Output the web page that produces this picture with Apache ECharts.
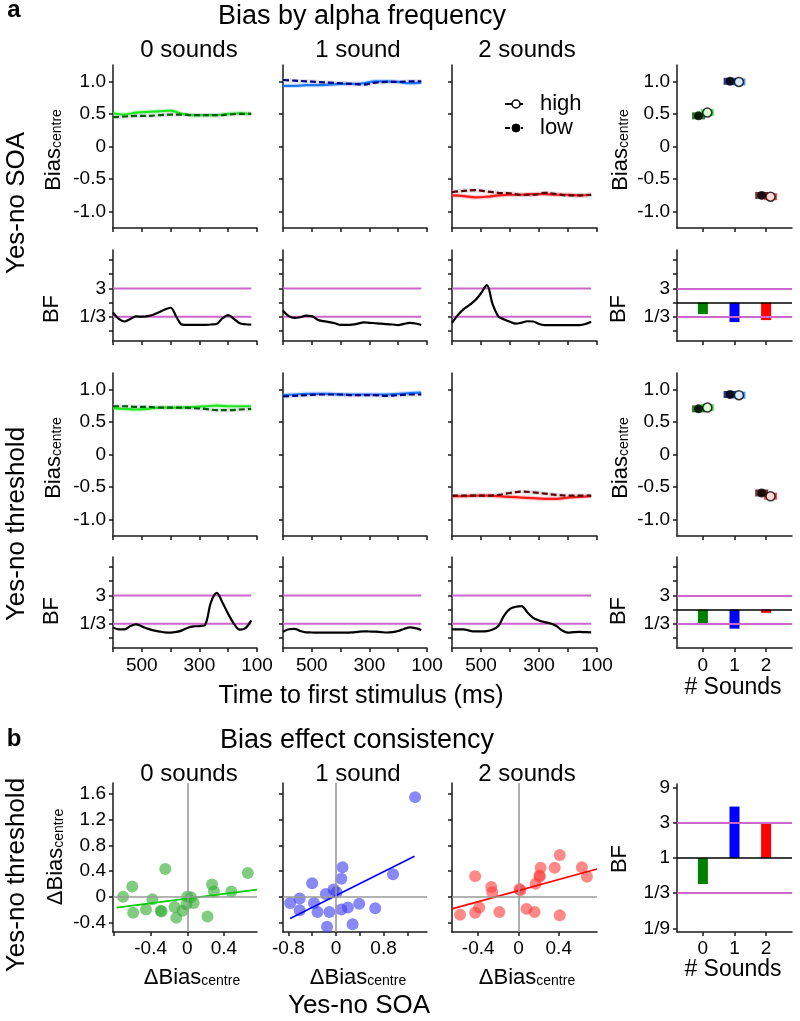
<!DOCTYPE html>
<html><head><meta charset="utf-8">
<script src="https://cdn.jsdelivr.net/npm/echarts@6/dist/echarts.min.js"></script>
<style>html,body{margin:0;padding:0;background:#fff}#c{width:800px;height:1021px}</style>
</head><body><div id="c"></div><script>
// ================= DATA =================
const timeFine   = [600,580,560,540,520,500,480,460,440,420,400,380,360,340,320,300,280,260,240,220,200,180,160,140,120];
const timeCoarse = [600,560,520,480,440,400,360,320,280,240,200,160,120];
const soundTitles = ['0 sounds','1 sound','2 sounds'];
const soundCounts = [0,1,2];
const timeTicks = [100,200,300,400,500,600];
const timeTickLabels = [500,300,100];
const biasTicks = [-1,-0.5,0,0.5,1];
const bfTicksLog3 = [-2,-1,0,1,2,3];
const bfLabelsLog3 = [-1,1];
const bfRefLog3 = [1,-1];            // BF = 3 and 1/3 (log base 3)

// Yes-no SOA: Bias_centre time courses (high / low alpha)
const soaHigh0 = [0.51,0.49,0.52,0.53,0.54,0.55,0.50,0.48,0.48,0.48,0.50,0.51,0.50];
const soaLow0  = [0.45,0.46,0.47,0.47,0.48,0.49,0.49,0.48,0.48,0.48,0.49,0.50,0.50];
const soaHigh1 = [0.93,0.93,0.94,0.94,0.95,0.96,0.96,0.97,1.00,1.00,0.99,0.97,0.98];
const soaLow1  = [1.02,1.01,1.00,0.99,0.98,0.97,0.96,0.95,0.98,0.99,0.99,1.00,1.00];
const soaHigh2 = [-0.75,-0.76,-0.78,-0.77,-0.75,-0.74,-0.74,-0.73,-0.73,-0.74,-0.74,-0.75,-0.74];
const soaLow2  = [-0.70,-0.68,-0.67,-0.69,-0.71,-0.72,-0.74,-0.74,-0.71,-0.73,-0.75,-0.75,-0.74];
// Yes-no threshold: Bias_centre time courses
const thrHigh0 = [0.71,0.70,0.69,0.70,0.72,0.72,0.72,0.73,0.74,0.75,0.74,0.74,0.74];
const thrLow0  = [0.74,0.74,0.73,0.73,0.72,0.72,0.72,0.71,0.70,0.68,0.68,0.69,0.70];
const thrHigh1 = [0.91,0.92,0.93,0.93,0.93,0.92,0.92,0.92,0.92,0.92,0.93,0.94,0.95];
const thrLow1  = [0.89,0.90,0.91,0.92,0.92,0.92,0.91,0.91,0.91,0.90,0.91,0.92,0.92];
const thrHigh2 = [-0.64,-0.64,-0.63,-0.63,-0.64,-0.65,-0.66,-0.67,-0.68,-0.68,-0.66,-0.65,-0.64];
const thrLow2  = [-0.63,-0.63,-0.63,-0.63,-0.62,-0.59,-0.57,-0.58,-0.60,-0.62,-0.63,-0.63,-0.63];

// BF time courses, log base 3 of BF
const soaBF0 = [-0.69,-1.15,-1.33,-1.15,-0.97,-0.99,-0.95,-0.85,-0.68,-0.48,-0.36,-1.00,-1.55,-1.57,-1.57,-1.57,-1.56,-1.54,-1.50,-1.10,-0.88,-1.15,-1.45,-1.52,-1.55];
const soaBF1 = [-0.58,-0.95,-1.08,-1.03,-0.92,-0.95,-1.20,-1.30,-1.37,-1.45,-1.57,-1.57,-1.55,-1.48,-1.39,-1.42,-1.45,-1.48,-1.52,-1.54,-1.58,-1.50,-1.43,-1.47,-1.57];
const soaBF2 = [-1.43,-0.88,-0.46,-0.17,0.16,0.66,1.23,-0.10,-0.97,-1.18,-1.35,-1.48,-1.41,-1.31,-1.33,-1.50,-1.58,-1.59,-1.59,-1.59,-1.59,-1.59,-1.58,-1.50,-1.34];
const thrBF0 = [-1.25,-1.39,-1.39,-1.16,-1.04,-1.18,-1.34,-1.46,-1.53,-1.60,-1.62,-1.57,-1.46,-1.27,-1.18,-1.16,-1.06,0.51,1.18,0.50,-0.30,-1.00,-1.41,-1.30,-0.76];
const thrBF1 = [-1.57,-1.38,-1.35,-1.50,-1.60,-1.61,-1.62,-1.62,-1.62,-1.62,-1.62,-1.62,-1.60,-1.56,-1.53,-1.54,-1.55,-1.58,-1.61,-1.58,-1.50,-1.36,-1.25,-1.30,-1.43];
const thrBF2 = [-1.39,-1.39,-1.39,-1.48,-1.53,-1.53,-1.51,-1.40,-1.15,-0.40,0.05,0.20,0.24,-0.20,-0.58,-0.76,-0.88,-0.98,-1.15,-1.47,-1.62,-1.58,-1.57,-1.59,-1.60];

// Summary column
const soaMeanLow  = [0.47, 1.00, -0.75];
const soaMeanHigh = [0.52, 0.99, -0.77];
const thrMeanLow  = [0.70, 0.92, -0.59];
const thrMeanHigh = [0.72, 0.91, -0.64];
const soaSummaryBF = [-0.81, -1.37, -1.23];   // log3 BF
const thrSummaryBF = [-0.99, -1.34, -0.23];   // log3 BF

// Panel b: consistency scatter (x = Yes-no SOA ΔBias, y = Yes-no threshold ΔBias)
const scat0X = [-0.70,-0.60,-0.59,-0.45,-0.38,-0.29,-0.28,-0.24,-0.14,-0.12,-0.05,-0.01,0.00,0.04,0.07,0.22,0.27,0.29,0.48,0.66];
const scat0Y = [0.00,0.16,-0.25,-0.20,-0.04,-0.22,-0.23,0.43,-0.16,-0.33,-0.22,-0.12,0.00,-0.01,-0.10,-0.31,0.19,0.08,0.08,0.37];
const scat1X = [-0.77,-0.61,-0.61,-0.40,-0.37,-0.31,-0.17,-0.11,-0.15,-0.04,0.01,0.09,0.11,0.09,0.20,0.28,0.39,0.66,0.96,1.33];
const scat1Y = [-0.10,-0.03,-0.21,0.21,-0.10,-0.24,0.04,-0.24,-0.47,0.11,0.07,0.28,0.46,-0.20,-0.17,-0.43,-0.11,-0.18,0.35,1.55];
const scat2X = [-0.58,-0.43,-0.43,-0.39,-0.27,-0.26,-0.19,0.01,0.02,0.08,0.16,0.17,0.21,0.21,0.22,0.36,0.41,0.41,0.63,0.68];
const scat2Y = [-0.28,0.32,-0.25,-0.17,0.15,0.07,-0.24,0.12,0.10,-0.19,-0.24,0.20,0.31,0.33,0.45,0.45,0.65,-0.29,0.46,0.31];
const fit0X = [-0.77,0.76], fit0Y = [-0.17,0.11];
const fit1X = [-0.77,1.32], fit1Y = [-0.34,0.63];
const fit2X = [-0.66,0.78], fit2Y = [-0.19,0.43];
const consistencyBF = [-0.74, 1.46, 1.00];    // log3 BF
const scatterTicksY = [-0.4,0,0.4,0.8,1.2,1.6];
const bfTicksB = [-2,-1,0,1,2];

// ================= STYLE / LAYOUT =================
const FONT = "'Liberation Sans', Arial, Helvetica, sans-serif";
const AXC = '#1a1a1a';
const PURPLE = '#cc66cc';
const hiCol  = ['#1ee61e','#1e78ff','#ff1a1a'];
const loCol  = ['#005a00','#000080','#5a0000'];
const barCol = ['#008000','#0000ff','#ff0000'];
const scatCol= ['#2eaa2e','#3a3aee','#ff3a3a'];
const fitCol = ['#00cc00','#0000ff','#ff0000'];
const colX=[113,283,452,677], colW=[144,144,145,115];
const rowY=[65,250,373,557], rowH=[163,91,163,91];
const bTop=783, bH=149;
const DODGE=0.14;
const TICKFS=19;

const grids=[], xAxes=[], yAxes=[], series=[], graphics=[];
const fmtNum = v => v===0 ? '0' : (v<0?'-':'') + Math.abs(v).toFixed(1);
const bfNames = {'3':'27','2':'9','1':'3','0':'1','-1':'1/3','-2':'1/9'};
const fmtBF = v => bfNames[String(Math.round(v))];

function axis(o){
  return {type:'value', min:o.min, max:o.max, inverse:!!o.inverse,
    splitLine:{show:false},
    axisLine:{show:true,onZero:false,lineStyle:{color:AXC,width:1.5}},
    axisTick:{show:true,length:4,lineStyle:{color:AXC,width:1.5},customValues:o.ticks},
    axisLabel:{show:!!o.labels, customValues:o.labels||[], color:'#000', fontSize:TICKFS, fontFamily:FONT,
      margin:o.margin||7, formatter:o.fmt||(v=>String(v))}};
}
function addGrid(l,t,w,h,xo,yo){
  const i=grids.length; grids.push({left:l,top:t,width:w,height:h});
  const xa=axis(xo); xa.gridIndex=i; const ya=axis(yo); ya.gridIndex=i;
  xAxes.push(xa); yAxes.push(ya); return i;
}
function lineSeries(gi, xs, ys, color, width, type, z, smooth){
  return {type:'line', xAxisIndex:gi, yAxisIndex:gi, data:xs.map((x,i)=>[x,ys[i]]),
    showSymbol:false, smooth:smooth===undefined?0.35:smooth, silent:true, z:z||2,
    lineStyle:{color, width, type:type||'solid'}};
}
function refLines(items){
  return {silent:true, symbol:'none', label:{show:false}, animation:false,
    data:items.map(it=>({yAxis:it[0], lineStyle:{color:it[1], width:it[2]||2, type:'solid'}}))};
}

const biasSets = [[soaHigh0,soaHigh1,soaHigh2],[soaLow0,soaLow1,soaLow2],[thrHigh0,thrHigh1,thrHigh2],[thrLow0,thrLow1,thrLow2]];
const bfSets = [[soaBF0,soaBF1,soaBF2],[thrBF0,thrBF1,thrBF2]];
const meanSets = [[soaMeanLow,soaMeanHigh],[thrMeanLow,thrMeanHigh]];
const sumBF = [soaSummaryBF, thrSummaryBF];

for(let r=0;r<4;r++){
  const isBias = r%2===0, blk = r>>1;
  for(let c=0;c<4;c++){
    const yLab = (c===0||c===3);
    const yo = isBias
      ? {min:-1.25,max:1.25,ticks:biasTicks,labels:yLab?biasTicks:null,fmt:fmtNum}
      : {min:-2.7,max:3.7,ticks:bfTicksLog3,labels:yLab?bfLabelsLog3:null,fmt:fmtBF};
    const xo = c<3
      ? {min:100,max:600,inverse:true,ticks:timeTicks,labels:r===3?timeTickLabels:null,margin:8}
      : {min:-0.82,max:2.82,ticks:soundCounts,labels:r===3?soundCounts:null,margin:8};
    const gi = addGrid(colX[c],rowY[r],colW[c],rowH[r],xo,yo);
    if(c<3){
      if(isBias){
        const hi = biasSets[blk*2][c], lo = biasSets[blk*2+1][c];
        const hHalo = echarts.color.modifyAlpha(hiCol[c],0.22);
        series.push(lineSeries(gi,timeCoarse,hi,hHalo,4.5,'solid',1));
        series.push(lineSeries(gi,timeCoarse,lo,'rgba(195,195,210,0.45)',4.5,'solid',1));
        series.push(lineSeries(gi,timeCoarse,hi,hiCol[c],2.2,'solid',3));
        series.push(lineSeries(gi,timeCoarse,lo,loCol[c],2.2,[6,3],4));
      } else {
        const ends=[timeFine[0],timeFine[timeFine.length-1]];
        bfRefLog3.forEach(v=>series.push(lineSeries(gi,ends,[v,v],PURPLE,2,'solid',1,false)));
        series.push(lineSeries(gi,timeFine,bfSets[blk][c],'#000',2.2,'solid',3));
      }
    } else {
      if(isBias){
        const [lo,hi] = meanSets[blk];
        series.push({type:'scatter',xAxisIndex:gi,yAxisIndex:gi,symbol:'rect',symbolSize:[13,7],z:2,silent:true,
          data:soundCounts.map((s,i)=>({value:[s-DODGE,lo[i]],itemStyle:{color:loCol[i]}}))});
        series.push({type:'scatter',xAxisIndex:gi,yAxisIndex:gi,symbol:'rect',symbolSize:[13,7],z:2,silent:true,
          data:soundCounts.map((s,i)=>({value:[s+DODGE,hi[i]],itemStyle:{color:hiCol[i]}}))});
        series.push({type:'scatter',xAxisIndex:gi,yAxisIndex:gi,symbol:'circle',symbolSize:9,z:4,silent:true,
          itemStyle:{color:'#000'}, data:soundCounts.map((s,i)=>[s-DODGE,lo[i]])});
        series.push({type:'scatter',xAxisIndex:gi,yAxisIndex:gi,symbol:'circle',symbolSize:9,z:4,silent:true,
          itemStyle:{color:'#fff',borderColor:'#000',borderWidth:1.5}, data:soundCounts.map((s,i)=>[s+DODGE,hi[i]])});
      } else {
        series.push({type:'bar',xAxisIndex:gi,yAxisIndex:gi,barWidth:10,silent:true,z:2,
          data:soundCounts.map((s,i)=>({value:[s,sumBF[blk][i]],itemStyle:{color:barCol[i]}})),
          markLine:refLines([[1,PURPLE],[-1,PURPLE],[0,'#000',1.6]])});
      }
    }
  }
}

// Panel b scatters
const scX=[scat0X,scat1X,scat2X], scY=[scat0Y,scat1Y,scat2Y];
const fX=[fit0X,fit1X,fit2X], fY=[fit0Y,fit1Y,fit2Y];
const sxRange=[[-0.81,0.76],[-0.89,1.53],[-0.66,0.78]];
const sxTicks=[[-0.8,-0.4,0,0.4],[-0.8,-0.4,0,0.4,0.8,1.2],[-0.4,0,0.4]];
const sxLabels=[[-0.4,0,0.4],[-0.8,0,0.8],[-0.4,0,0.4]];
for(let c=0;c<3;c++){
  const gi = addGrid(colX[c],bTop,colW[c],bH,
    {min:sxRange[c][0],max:sxRange[c][1],ticks:sxTicks[c],labels:sxLabels[c],fmt:fmtNum,margin:7},
    {min:-0.55,max:1.77,ticks:scatterTicksY,labels:c===0?scatterTicksY:null,fmt:fmtNum});
  series.push({type:'line',xAxisIndex:gi,yAxisIndex:gi,data:[],z:1,silent:true,
    markLine:{silent:true,symbol:'none',label:{show:false},animation:false,
      lineStyle:{color:'#9a9a9a',width:1.6,type:'solid'},data:[{xAxis:0},{yAxis:0}]}});
  series.push({type:'scatter',xAxisIndex:gi,yAxisIndex:gi,symbolSize:12,z:3,silent:true,
    itemStyle:{color:scatCol[c],opacity:0.6}, data:scX[c].map((x,i)=>[x,scY[c][i]])});
  series.push(lineSeries(gi,fX[c],fY[c],fitCol[c],1.6,'solid',4,false));
}
{
  const gi = addGrid(colX[3],bTop+1,colW[3],bH-1,
    {min:-0.82,max:2.82,ticks:soundCounts,labels:soundCounts,margin:7},
    {min:-2.1,max:2.1,ticks:bfTicksB,labels:bfTicksB,fmt:fmtBF});
  series.push({type:'bar',xAxisIndex:gi,yAxisIndex:gi,barWidth:10,silent:true,z:2,
    data:soundCounts.map((s,i)=>({value:[s,consistencyBF[i]],itemStyle:{color:barCol[i]}})),
    markLine:refLines([[1,PURPLE],[-1,PURPLE],[0,'#000',1.6]])});
}

// ================= TEXT =================
function T(x,y,text,size,o){
  o=o||{};
  const st={text, fill:'#000', fontSize:size, fontFamily:FONT, fontWeight:o.bold?'bold':'normal',
    align:o.align||'center', verticalAlign:'middle'};
  if(o.rich) st.rich=o.rich;
  graphics.push({type:'text', x, y, rotation:o.rot?Math.PI/2:0, silent:true, style:st});
}
function sub(bs,ss){
  return {b:{fontSize:bs,fontFamily:FONT,fill:'#000',color:'#000',verticalAlign:'bottom',lineHeight:bs+1},
          s:{fontSize:ss,fontFamily:FONT,fill:'#000',color:'#000',verticalAlign:'bottom',lineHeight:Math.round(ss*0.55)}};
}
T(14,10,'a',24,{bold:true});
T(362,17,'Bias by alpha frequency',27);
const subX=[189,358,527];
soundTitles.forEach((t,i)=>T(subX[i],50,t,24));
T(17,203,'Yes-no SOA',26,{rot:true});
T(17,524,'Yes-no threshold',26,{rot:true});
[[53,150],[53,458],[620,150],[620,458]].forEach(p=>T(p[0],p[1],'{b|Bias}{s|centre}',22,{rot:true,rich:sub(22,14)}));
[[52,309],[52,611],[619,309],[619,611]].forEach(p=>T(p[0],p[1],'BF',22,{rot:true}));
T(361,696,'Time to first stimulus (ms)',25);
T(733,688,'# Sounds',23);
// legend
graphics.push({type:'line',silent:true,shape:{x1:505,y1:104,x2:523,y2:104},style:{stroke:'#000',lineWidth:2}});
graphics.push({type:'circle',silent:true,shape:{cx:516,cy:104,r:4},style:{fill:'#fff',stroke:'#000',lineWidth:1.5}});
graphics.push({type:'line',silent:true,shape:{x1:505,y1:128,x2:523,y2:128},style:{stroke:'#000',lineWidth:2,lineDash:[5,3]}});
graphics.push({type:'circle',silent:true,shape:{cx:516,cy:128,r:4},style:{fill:'#000',stroke:'#000',lineWidth:1}});
T(540,104,'high',22,{align:'left'});
T(540,128,'low',22,{align:'left'});
// panel b
T(14,739,'b',24,{bold:true});
T(357,741,'Bias effect consistency',27);
soundTitles.forEach((t,i)=>T(subX[i],774,t,24));
T(17,875,'Yes-no threshold',26,{rot:true});
T(55,857,'{b|\u0394Bias}{s|centre}',22,{rot:true,rich:sub(22,14)});
[192,358,527].forEach(x=>T(x,977,'{b|\u0394Bias}{s|centre}',22,{rich:sub(22,14)}));
T(620,859,'BF',22,{rot:true});
T(733,970,'# Sounds',23);
T(359,1006,'Yes-no SOA',26);

const chart = echarts.init(document.getElementById('c'), null, {renderer:'canvas'});
chart.setOption({animation:false, backgroundColor:'#fff', grid:grids, xAxis:xAxes, yAxis:yAxes, series, graphic:graphics});
</script></body></html>
